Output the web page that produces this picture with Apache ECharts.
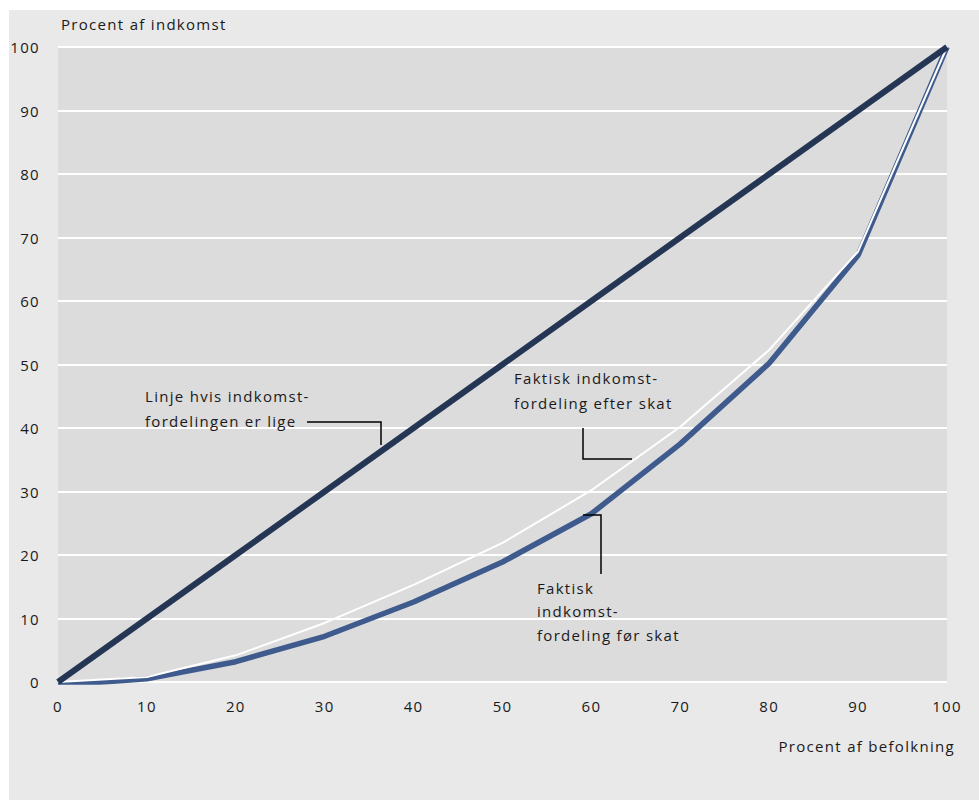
<!DOCTYPE html>
<html>
<head>
<meta charset="utf-8">
<script src="https://cdn.jsdelivr.net/npm/echarts@6/dist/echarts.min.js"></script>
<style>
html,body{margin:0;padding:0;background:#fff;}
#chart{width:979px;height:800px;}
#chart text{letter-spacing:1.3px;}
</style>
</head>
<body>
<div id="chart"></div>
<script>
// Data
var population = [0, 10, 20, 30, 40, 50, 60, 70, 80, 90, 100];
var equalLine = [0, 10, 20, 30, 40, 50, 60, 70, 80, 90, 100];
var beforeTax = [-0.5, 0.5, 3.2, 7.2, 12.6, 18.9, 26.5, 37.5, 50.2, 67.2, 100];
var afterTax = [0, 0.8, 4.2, 9.3, 15.3, 21.9, 30.2, 40.2, 52.3, 67.8, 100];
var tickValues = [0, 10, 20, 30, 40, 50, 60, 70, 80, 90, 100];
var yAxisTitle = 'Procent af indkomst';
var xAxisTitle = 'Procent af befolkning';
var labelEqual = ['Linje hvis indkomst-', 'fordelingen er lige'];
var labelAfter = ['Faktisk indkomst-', 'fordeling efter skat'];
var labelBefore = ['Faktisk', 'indkomst-', 'fordeling før skat'];

function pairs(xs, ys) { return xs.map(function (x, i) { return [x, ys[i]]; }); }

var FONT = '"Open Sans", "Noto Sans", sans-serif';
var TXT = '#1a1a1a';
var chart = echarts.init(document.getElementById('chart'), null, {renderer: 'svg'});

function textEl(lines, x, y, lh) {
  return lines.map(function (t, i) {
    return {type: 'text', left: x, top: y + i * lh, z: 20,
      style: {text: t, fill: TXT, font: '15px ' + FONT}};
  });
}

var graphics = [
  {type: 'rect', left: 9, top: 10, z: -10, silent: true,
   shape: {width: 970, height: 790}, style: {fill: '#e9e9e9'}},
  {type: 'text', left: 61, top: 16, z: 20,
   style: {text: yAxisTitle, fill: TXT, font: '15px ' + FONT}},
  {type: 'text', x: 955, y: 738, z: 20,
   style: {text: xAxisTitle, fill: TXT, font: '15px ' + FONT, align: 'right', verticalAlign: 'top'}},
  {type: 'polyline', z: 20, shape: {points: [[307, 422], [381, 422], [381, 445]]},
   style: {stroke: '#000', lineWidth: 1.5, fill: null}},
  {type: 'polyline', z: 20, shape: {points: [[583, 428], [583, 459], [632, 459]]},
   style: {stroke: '#000', lineWidth: 1.5, fill: null}},
  {type: 'polyline', z: 20, shape: {points: [[583, 515], [601, 515], [601, 574]]},
   style: {stroke: '#000', lineWidth: 1.5, fill: null}}
].concat(textEl(labelEqual, 145, 388, 25))
 .concat(textEl(labelAfter, 514, 370, 25))
 .concat(textEl(labelBefore, 537, 580, 23.5));

chart.setOption({
  animation: false,
  backgroundColor: '#ffffff',
  textStyle: {fontFamily: FONT},
  grid: {left: 58, right: 32, top: 47, bottom: 118, show: true,
         backgroundColor: '#dcdcdc', borderWidth: 0},
  xAxis: {
    type: 'value', min: 0, max: 100, interval: 10,
    axisLine: {show: false}, axisTick: {show: false}, splitLine: {show: false},
    axisLabel: {color: TXT, fontSize: 15, margin: 16,
      formatter: function (v) { return tickValues.indexOf(v) >= 0 ? String(v) : ''; }}
  },
  yAxis: {
    type: 'value', min: 0, max: 100, interval: 10,
    axisLine: {show: false}, axisTick: {show: false},
    splitLine: {show: true, lineStyle: {color: '#ffffff', width: 2}},
    axisLabel: {color: TXT, fontSize: 15, margin: 18}
  },
  series: [
    {name: 'lige', type: 'line', data: pairs(population, equalLine), symbol: 'none',
     z: 5, lineStyle: {color: '#253654', width: 6}},
    {name: 'før skat', type: 'line', data: pairs(population, beforeTax), symbol: 'none',
     z: 3, lineStyle: {color: '#3f5b8e', width: 5.5}},
    {name: 'efter skat', type: 'line', data: pairs(population, afterTax), symbol: 'none',
     z: 4, lineStyle: {color: '#ffffff', width: 2}}
  ],
  graphic: graphics
});
</script>
</body>
</html>
